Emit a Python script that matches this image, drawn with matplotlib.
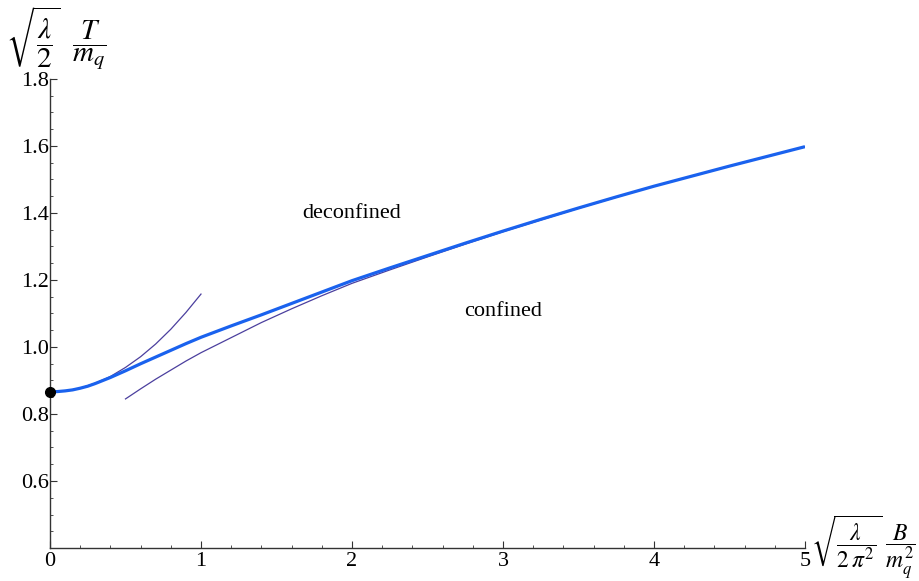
import matplotlib
matplotlib.use("Agg")
import matplotlib.pyplot as plt
from matplotlib.ticker import MultipleLocator, FixedLocator, FuncFormatter

# ---- data ----
main_x = [0, 0.05, 0.1, 0.15, 0.2, 0.25, 0.3, 0.4, 0.5, 0.6, 0.7, 0.8, 0.9, 1.0, 1.2,
          1.4, 1.6, 1.8, 2.0, 2.25, 2.5, 2.75, 3.0, 3.25, 3.5, 3.75, 4.0, 4.25, 4.5,
          4.75, 5.0]
main_y = [0.866, 0.867, 0.869, 0.872, 0.877, 0.883, 0.891, 0.909, 0.929, 0.950, 0.970,
          0.990, 1.010, 1.029, 1.063, 1.096, 1.130, 1.164, 1.198, 1.236, 1.273, 1.310,
          1.346, 1.381, 1.415, 1.448, 1.480, 1.510, 1.540, 1.569, 1.598]

small_x = [0, 0.1, 0.2, 0.3, 0.4, 0.5, 0.6, 0.7, 0.8, 0.9, 1.0]
small_y = [0.866, 0.869, 0.877, 0.892, 0.912, 0.939, 0.971, 1.009, 1.053, 1.103, 1.158]

large_x = [0.5, 0.6, 0.7, 0.8, 0.9, 1.0, 1.2, 1.4, 1.6, 1.8, 2.0, 2.25, 2.5, 2.75,
           3.0, 3.5, 4.0, 4.5, 5.0]
large_y = [0.845, 0.875, 0.904, 0.931, 0.958, 0.983, 1.028, 1.073, 1.114, 1.153, 1.190,
           1.230, 1.269, 1.307, 1.344, 1.414, 1.480, 1.540, 1.598]

point_x = [0]
point_y = [0.866]

x_ticks = [0, 1, 2, 3, 4, 5]
y_ticks = [0.6, 0.8, 1.0, 1.2, 1.4, 1.6, 1.8]

region_labels = ["deconfined", "confined"]
region_x = [2.0, 3.0]
region_y = [1.40, 1.107]

# ---- figure ----
plt.rcParams['font.family'] = ['Liberation Serif', 'DejaVu Serif']
plt.rcParams['mathtext.fontset'] = 'stix'

W, H = 919, 581
fig = plt.figure(figsize=(W / 100, H / 100), dpi=100)
left, right, top, bottom = 50, 805, 79, 548
ax = fig.add_axes([left / W, (H - bottom) / H, (right - left) / W, (bottom - top) / H])

thin_col = '#4b3f9e'
ax.plot(small_x, small_y, color=thin_col, lw=0.9, zorder=2)
ax.plot(large_x, large_y, color=thin_col, lw=0.9, zorder=2)
ax.plot(main_x, main_y, color='#1a62ee', lw=2.3, zorder=3, solid_capstyle='butt',
        solid_joinstyle='round')
ax.plot(point_x, point_y, 'o', color='black', ms=7, zorder=4, clip_on=False)

for t, x, y in zip(region_labels, region_x, region_y):
    ax.text(x, y, t, ha='center', va='center', fontsize=16)

ax.set_xlim(0, 5)
ax.set_ylim(0.4, 1.8)

for s in ['top', 'right']:
    ax.spines[s].set_visible(False)
for s in ['left', 'bottom']:
    ax.spines[s].set_color('#333333')
    ax.spines[s].set_linewidth(1.0)

ax.xaxis.set_major_locator(FixedLocator(x_ticks))
ax.xaxis.set_minor_locator(MultipleLocator(0.2))
ax.yaxis.set_major_locator(FixedLocator(y_ticks))
ax.yaxis.set_minor_locator(MultipleLocator(0.05))
ax.xaxis.set_major_formatter(FuncFormatter(lambda v, p: f"{v:.0f}"))
ax.yaxis.set_major_formatter(FuncFormatter(lambda v, p: f"{v:.1f}"))

ax.tick_params(which='major', direction='in', length=5, width=0.8, color='#333333',
               labelsize=16, pad=3)
ax.tick_params(which='minor', direction='in', length=2.5, width=0.6, color='#333333')
ax.tick_params(axis='y', pad=1)

# axis labels
fig.text(6 / W, 1 - 38 / H, r'$\sqrt{\dfrac{\lambda}{2}}\ \ \dfrac{T}{m_q}$',
         fontsize=21, ha='left', va='center')
fig.text(811 / W, 1 - 547 / H, r'$\sqrt{\dfrac{\lambda}{2\,\pi^2}}\ \dfrac{B}{m_q^2}$',
         fontsize=17, ha='left', va='center')

fig.savefig('out.png', dpi=100)
